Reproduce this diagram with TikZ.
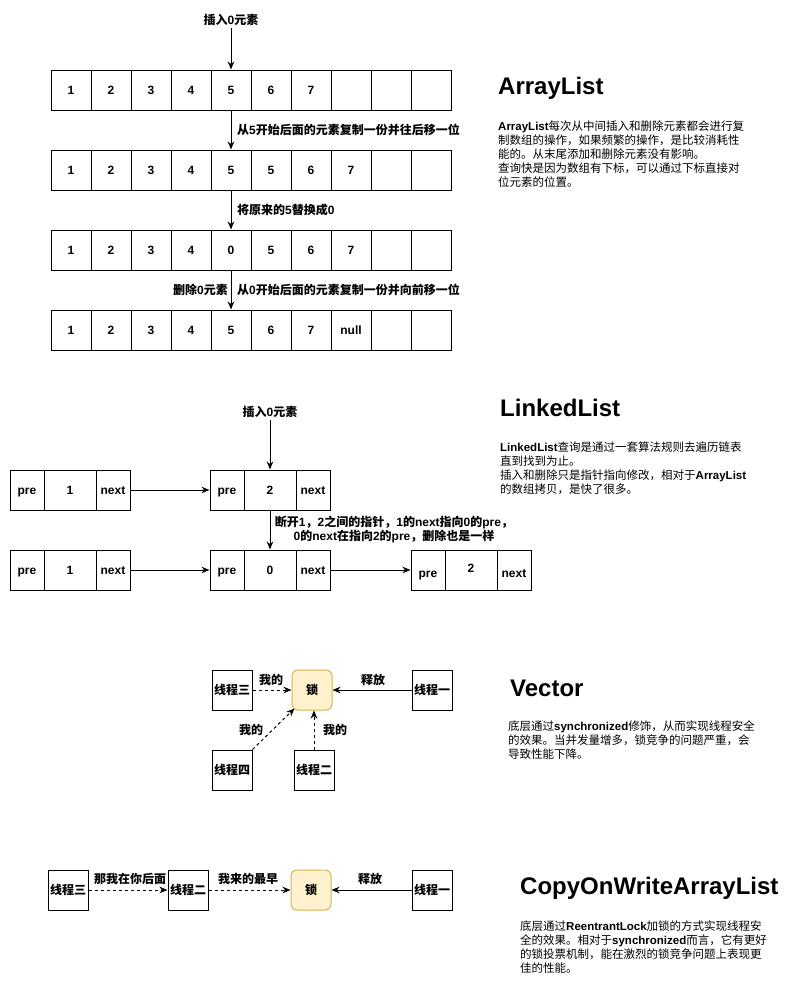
\documentclass[tikz,border=0pt]{standalone}
\usepackage{fontspec}
\setmainfont{Liberation Sans}
\newfontfamily\cjkf{Noto Sans CJK SC}
\usetikzlibrary{arrows.meta}
\XeTeXinterchartokenstate=1
\newXeTeXintercharclass\cjkcls
\newcount\cjkc
\def\setcjkrange#1#2{\cjkc=#1\relax\loop\XeTeXcharclass\cjkc=\cjkcls\relax\advance\cjkc by 1\relax\ifnum\cjkc<#2\relax\repeat}
\setcjkrange{"3000}{"3040}
\setcjkrange{"4E00}{"A000}
\setcjkrange{"FF00}{"FFF0}
\XeTeXinterchartoks 0 \cjkcls = {\cjkf}
\XeTeXinterchartoks 4095 \cjkcls = {\cjkf}
\XeTeXinterchartoks \cjkcls 0 = {\rmfamily}
\definecolor{lockfill}{HTML}{FFF2CC}
\definecolor{lockdraw}{HTML}{D6B656}
\newcommand\lblfont{\bfseries\fontsize{12}{14}\selectfont}
\newcommand\bl[1]{{\bfseries\rmfamily #1}}
\tikzset{
  box/.style={draw, line width=1pt, minimum width=40pt, minimum height=40pt, inner sep=0pt, font=\lblfont},
  part/.style={draw, line width=1pt, minimum height=40pt, inner sep=0pt, font=\lblfont, text height=9pt, text depth=0pt},
  lbl/.style={inner sep=2pt, font=\lblfont},
  arr/.style={line width=1pt, -{Stealth[length=8pt,width=6.5pt,inset=2.5pt]}},
  darr/.style={arr, dash pattern=on 3pt off 3pt},
  lockbox/.style={box, rounded corners=6pt, fill=lockfill, draw=lockdraw},
  head/.style={anchor=west, inner sep=0pt, font=\bfseries\fontsize{24}{28}\selectfont},
  desc/.style={anchor=north west, align=left, inner sep=0pt, font=\fontsize{11.5}{14}\selectfont},
  low/.style={text height=15pt, text depth=0pt},
  high/.style={text height=4.6pt, text depth=0pt}
}
\newcommand\llnode[4]{%
  \node[part,minimum width=34pt] (#1p) at ({#2+17},#3) {pre};
  \node[part,minimum width=52pt] (#1v) at ({#2+60},#3) {#4};
  \node[part,minimum width=34pt] (#1n) at ({#2+103},#3) {next};
}
\begin{document}
\begin{tikzpicture}[x=1pt,y=-1pt]
\useasboundingbox (0,0) rectangle (795,1002);
\fill[white] (0,0) rectangle (795,1002);

% ---------- ArrayList ----------
\foreach \v [count=\i] in {1,2,3,4,5,6,7,{},{},{}}
  \node[box] (a1c\i) at ({31+40*\i},90) {\v};
\foreach \v [count=\i] in {1,2,3,4,5,5,6,7,{},{}}
  \node[box] (a2c\i) at ({31+40*\i},170) {\v};
\foreach \v [count=\i] in {1,2,3,4,0,5,6,7,{},{}}
  \node[box] (a3c\i) at ({31+40*\i},250) {\v};
\foreach \v [count=\i] in {1,2,3,4,5,6,7,null,{},{}}
  \node[box] (a4c\i) at ({31+40*\i},330) {\v};

\node[lbl] (ins1) at (231,20) {插入0元素};
\draw[arr] (ins1.south) -- (a1c5.north);
\draw[arr] (a1c5.south) -- (a2c5.north);
\node[lbl,anchor=west] (lab2) at (235,130) {从5开始后面的元素复制一份并往后移一位};
\draw[arr] (a2c5.south) -- (a3c5.north);
\node[lbl,anchor=west] (lab3) at (235,210) {将原来的5替换成0};
\draw[arr] (a3c5.south) -- (a4c5.north);
\node[lbl,anchor=east] (lab4a) at (230,290) {删除0元素};
\node[lbl,anchor=west] (lab4b) at (235,290) {从0开始后面的元素复制一份并向前移一位};

\node[head] (h1) at (498,88) {ArrayList};
\node[desc] (d1) at (498,121) {\bl{ArrayList}每次从中间插入和删除元素都会进行复\\制数组的操作，如果频繁的操作，是比较消耗性\\能的。从末尾添加和删除元素没有影响。\\查询快是因为数组有下标，可以通过下标直接对\\位元素的位置。};

% ---------- LinkedList ----------
\llnode{A}{10}{490}{1}
\llnode{B}{210}{490}{2}
\llnode{C}{10}{570}{1}
\llnode{D}{210}{570}{0}
\node[part,minimum width=34pt,low] (Ep) at (428,570) {pre};
\node[part,minimum width=52pt,high] (Ev) at (471,570) {2};
\node[part,minimum width=34pt,low] (En) at (514,570) {next};

\draw[arr] (An.east) -- (Bp.west);
\node[lbl] (ins2) at (270,412) {插入0元素};
\draw[arr] (ins2.south) -- (Bv.north);
\draw[arr] (Bv.south) -- (Dv.north);
\node[lbl,align=center] (lab5) at (394,530) {断开1，2之间的指针，1的next指向0的pre，\\0的next在指向2的pre，删除也是一样};
\draw[arr] (Cn.east) -- (Dp.west);
\draw[arr] (Dn.east) -- (Ep.west);

\node[head] (h2) at (500,408) {LinkedList};
\node[desc] (d2) at (500,441.5) {\bl{LinkedList}查询是通过一套算法规则去遍历链表\\直到找到为止。\\插入和删除只是指针指向修改，相对于\bl{ArrayList}\\的数组拷贝，是快了很多。};

% ---------- Vector ----------
\node[box] (v3) at (232,690) {线程三};
\node[lockbox] (vl) at (312,690) {锁};
\node[box] (v1) at (432,690) {线程一};
\node[box] (v4) at (232,770) {线程四};
\node[box] (v2) at (314,770) {线程二};
\draw[darr] (v3.east) -- (vl.west);
\node[lbl] (vm3) at (271,680) {我的};
\draw[darr] (v4.north east) -- ([shift={(3,-2)}]vl.south west);
\node[lbl] (vm4) at (251,730) {我的};
\draw[darr] (v2.north) -- (v2.north |- vl.south);
\node[lbl] (vm2) at (335,730) {我的};
\draw[arr] (v1.west) -- (vl.east);
\node[lbl] (vm1) at (373,680) {释放};

\node[head] (h3) at (510,688) {Vector};
\node[desc] (d3) at (508,720.5) {底层通过\bl{synchronized}修饰，从而实现线程安全\\的效果。当并发量增多，锁竞争的问题严重，会\\导致性能下降。};

% ---------- CopyOnWriteArrayList ----------
\node[box] (c3) at (68,890) {线程三};
\node[box] (c2) at (188,890) {线程二};
\node[lockbox] (cl) at (311,890) {锁};
\node[box] (c1) at (432,890) {线程一};
\draw[darr] (c3.east) -- (c2.west);
\node[lbl] (cm3) at (130,879) {那我在你后面};
\draw[darr] (c2.east) -- (cl.west);
\node[lbl] (cm2) at (248,879) {我来的最早};
\draw[arr] (c1.west) -- (cl.east);
\node[lbl] (cm1) at (370,879) {释放};

\node[head] (h4) at (520,888) {CopyOnWriteArrayList};
\node[desc] (d4) at (520,920.5) {底层通过\bl{ReentrantLock}加锁的方式实现线程安\\全的效果。相对于\bl{synchronized}而言，它有更好\\的锁投票机制，能在激烈的锁竞争问题上表现更\\佳的性能。};
\end{tikzpicture}
\end{document}
